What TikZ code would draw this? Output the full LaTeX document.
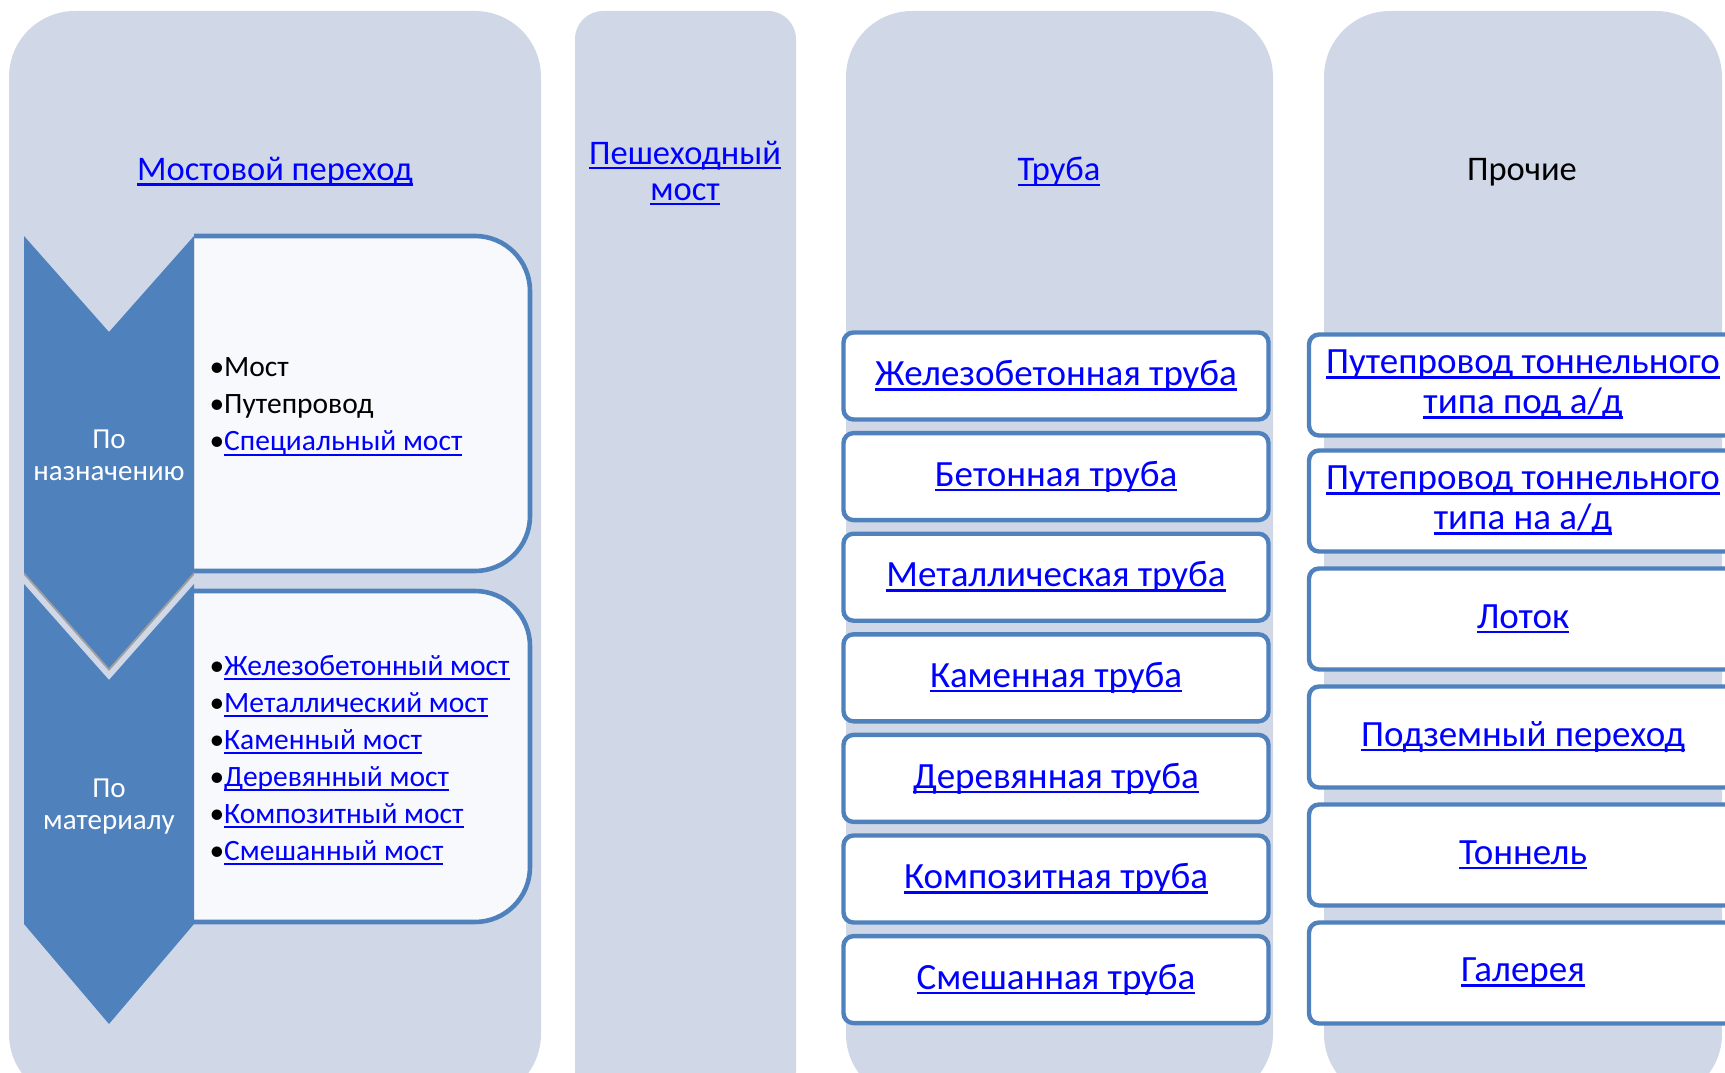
\documentclass[tikz,border=0pt]{standalone}
\usepackage{fontspec}
\setmainfont{Carlito}
\usetikzlibrary{positioning}

\definecolor{colbg}{HTML}{D0D8E8}
\definecolor{accent}{HTML}{4F81BD}
\definecolor{linkblue}{HTML}{0000FF}
\definecolor{paper}{HTML}{F8F9FC}

% underlined link text
\newcommand{\lnk}[1]{{\color{linkblue}\setbox0\hbox{#1}\rlap{\rule[-5pt]{\wd0}{2.4pt}}\box0}}

\tikzset{
  lane/.style={fill=colbg},
  chev/.style={fill=accent},
  lanetitle/.style={font=\fontsize{34.5}{36}\selectfont, align=center},
  chevtext/.style={text=white, font=\fontsize{29}{32}\selectfont, align=center},
  itemtext/.style={font=\fontsize{29.5}{37}\selectfont, align=left, anchor=west},
  pipebox/.style={draw=accent, line width=4.4pt, fill=white, rounded corners=10pt,
    minimum width=425pt, minimum height=87pt, inner sep=0pt, font=\fontsize{37}{40}\selectfont},
  otherbox/.style={pipebox, minimum width=428pt, minimum height=101pt, align=center}
}

\begin{document}
\begin{tikzpicture}[x=1pt,y=-1pt]
\clip (0,0) rectangle (1725,1073);
\fill[white] (0,0) rectangle (1725,1073);

% Columns
\fill[lane, rounded corners=66pt] (9,11) rectangle (541,1100);
\fill[lane, rounded corners=28pt] (575,11) rectangle (796,1100);
\fill[lane, rounded corners=66pt] (846,11) rectangle (1273,1100);
\fill[lane, rounded corners=66pt] (1324,11) rectangle (1722,1100);

% Titles
\node[lanetitle] (bridge) at (275,172) {\lnk{Мостовой переход}};
\node[lanetitle] (footbridge) at (685,173) {\lnk{Пешеходный}\\\lnk{мост}};
\node[lanetitle] (pipe) at (1059,172) {\lnk{Труба}};
\node[lanetitle] (other) at (1522,172) {Прочие};

% List boxes of the first column
\begin{scope}
\clip (194,200) rectangle (600,1000);
\filldraw[fill=paper, draw=accent, line width=4.6pt, rounded corners=55pt] (120,236) rectangle (530,571);
\filldraw[fill=paper, draw=accent, line width=4.6pt, rounded corners=55pt] (120,591) rectangle (530,922);
\end{scope}

% Chevrons
\fill[gray!75] (24,239) -- (109,335) -- (194,239) -- (194,575) -- (109,671) -- (24,575) -- cycle;
\fill[chev] (24,236) -- (109,332) -- (194,236) -- (194,572) -- (109,668) -- (24,572) -- cycle;
\fill[chev] (24,584) -- (109,680) -- (194,584) -- (194,924) -- (109,1024) -- (24,924) -- cycle;

\node[chevtext] (purpose) at (109,455) {По\\назначению};
\node[chevtext] (material) at (109,807) {По\\материалу};

\node[itemtext] (purposelist) at (206,407) {•Мост\\•Путепровод\\•\lnk{Специальный мост}};
\node[itemtext] (materiallist) at (206,760) {•\lnk{Железобетонный мост}\\•\lnk{Металлический мост}\\•\lnk{Каменный мост}\\%
  •\lnk{Деревянный мост}\\•\lnk{Композитный мост}\\•\lnk{Смешанный мост}};

% Pipes
\foreach \kind [count=\i from 0] in {Железобетонная труба, Бетонная труба, Металлическая труба,
  Каменная труба, Деревянная труба, Композитная труба, Смешанная труба}
  \node[pipebox] (pipe\i) at (1056,376+100.6*\i) {\lnk{\kind}};

% Other structures
\node[otherbox] (over1) at (1523,385) {\lnk{Путепровод тоннельного}\\\lnk{типа под а/д}};
\node[otherbox] (over2) at (1523,501) {\lnk{Путепровод тоннельного}\\\lnk{типа на а/д}};
\node[otherbox] (tray) at (1523,619) {\lnk{Лоток}};
\node[otherbox] (underpass) at (1523,737) {\lnk{Подземный переход}};
\node[otherbox] (tunnel) at (1523,855) {\lnk{Тоннель}};
\node[otherbox] (gallery) at (1523,973) {\lnk{Галерея}};
\end{tikzpicture}
\end{document}
